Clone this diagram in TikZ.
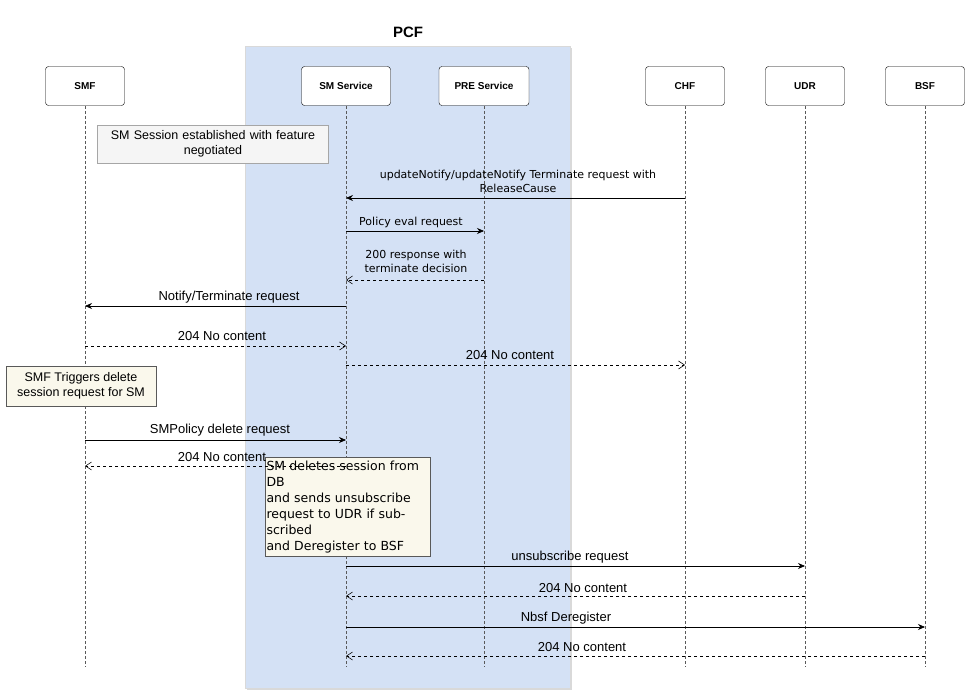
\documentclass[tikz,border=0pt]{standalone}
\usepackage{fontspec}
\setmainfont{Liberation Sans}
\newfontfamily\wide{DejaVu Sans}
\usetikzlibrary{arrows.meta,shadows}
\definecolor{pcfblue}{HTML}{D4E1F5}
\definecolor{cream}{HTML}{FAF8EC}
\begin{document}
\begin{tikzpicture}[x=1pt,y=-1pt,
  actor/.style={draw,rounded corners=3pt,fill=white,minimum width=79pt,minimum height=39pt,font=\bfseries\fontsize{10}{11}\selectfont},
  life/.style={densely dashed,gray!70!black,line width=0.6pt},
  msg/.style={-{Stealth[length=7pt,width=6pt]},line width=0.7pt},
  rep/.style={-{Straight Barb[length=6pt,width=8pt]},dashed,line width=0.6pt},
  lbl/.style={font=\fontsize{13}{15}\selectfont,inner sep=1pt},
  slbl/.style={font=\wide\fontsize{11}{14}\selectfont,align=center,inner sep=1pt},
  note/.style={draw,font=\fontsize{12.5}{15}\selectfont}]
\useasboundingbox (0,0) rectangle (972,700);
\node[draw=gray!30,fill=pcfblue,minimum width=325pt,minimum height=642pt,anchor=north west,drop shadow={opacity=0.3,shadow xshift=2pt,shadow yshift=-2pt}] (pcf) at (245,46) {};
\node[font=\bfseries\fontsize{15}{17}\selectfont] (pcft) at (408,32) {PCF};
\foreach \n/\t/\x/\w in {smf/SMF/85/79,sm/SM Service/346/89,pre/PRE Service/484/90,chf/CHF/685/79,udr/UDR/805/79,bsf/BSF/925/79}{
  \coordinate (\n b) at (\x,667);
  \draw[life] (\x,106) -- (\n b);
  \node[actor,minimum width=\w pt] (\n) at (\x,86) {\t};
}
\node[note,fill=gray!8,draw=gray!70,minimum width=230pt,minimum height=38pt,align=center,text width=224pt] (n1) at (213,144) {SM Session established with feature\\negotiated};
\node[note,fill=cream,draw=gray!70!black,minimum width=150pt,minimum height=40pt,align=center] (n2) at (81,386) {SMF Triggers delete\\session request for SM};
\node[note,fill=cream,draw=gray!70!black,minimum width=165pt,minimum height=68pt,align=left,text width=162pt,inner xsep=1.5pt,font=\wide\fontsize{12.5}{16}\selectfont] (n3) at (347.5,507) {SM deletes session from DB\\and sends unsubscribe\\request to UDR if subscribed\\and Deregister to BSF};
\draw[msg] (chf |- 0,198) -- (sm |- 0,198);
\node[slbl] (l1) at (518,181) {updateNotify/updateNotify Terminate request with\\ReleaseCause};
\draw[msg] (sm |- 0,231) -- (pre |- 0,231);
\node[slbl] (l2) at (411,222) {Policy eval request};
\draw[rep] (pre |- 0,280) -- (sm |- 0,280);
\node[slbl] (l3) at (416,261) {200 response with\\terminate decision};
\draw[msg] (sm |- 0,306) -- (smf |- 0,306);
\node[lbl] (l4) at (229,297) {Notify/Terminate request};
\draw[rep] (smf |- 0,346) -- (sm |- 0,346);
\node[lbl] (l5) at (222,336) {204 No content};
\draw[rep] (sm |- 0,365) -- (chf |- 0,365);
\node[lbl] (l6) at (510,355) {204 No content};
\draw[msg] (smf |- 0,440) -- (sm |- 0,440);
\node[lbl] (l7) at (220,430) {SMPolicy delete request};
\draw[rep] (sm |- 0,466) -- (smf |- 0,466);
\node[lbl] (l8) at (222,457) {204 No content};
\draw[msg] (sm |- 0,566) -- (udr |- 0,566);
\node[lbl] (l9) at (570,557) {unsubscribe request};
\draw[rep] (udr |- 0,596) -- (sm |- 0,596);
\node[lbl] (l10) at (583,588) {204 No content};
\draw[msg] (sm |- 0,627) -- (bsf |- 0,627);
\node[lbl] (l11) at (566,618) {Nbsf Deregister};
\draw[rep] (bsf |- 0,656) -- (sm |- 0,656);
\node[lbl] (l12) at (582,647) {204 No content};
\end{tikzpicture}
\end{document}
